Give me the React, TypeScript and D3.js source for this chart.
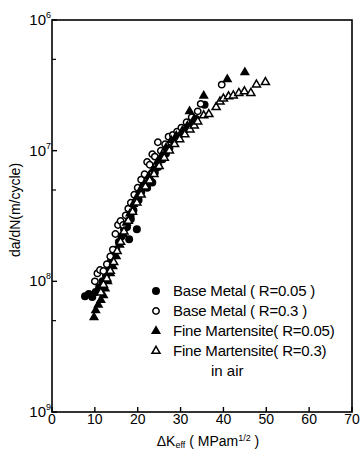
import React from 'react'
import * as d3 from 'd3'

const width = 361
const height = 454
const plot = { left: 52, right: 352, top: 20, bottom: 412 }

// [ΔKeff (MPa m^1/2), da/dN (m/cycle)]
const baseR005: [number, number][] = [
  [7.7, 7.7e-9], [8.6, 8.0e-9], [9.4, 7.6e-9], [10.2, 8.3e-9], [11.0, 9.0e-9], [11.8, 1.0e-8],
  [12.6, 1.1e-8], [13.2, 1.25e-8], [13.8, 1.45e-8], [14.4, 1.6e-8], [15.0, 1.75e-8], [15.6, 2.0e-8],
  [16.2, 2.2e-8], [16.8, 2.5e-8], [17.5, 2.6e-8], [18.0, 2.1e-8], [18.4, 3.0e-8], [19.0, 3.5e-8],
  [19.8, 2.5e-8], [20.2, 4.2e-8], [20.8, 4.8e-8], [21.4, 5.5e-8], [22.2, 5.2e-8], [22.8, 6.0e-8],
  [23.4, 5.7e-8], [24.0, 6.8e-8], [24.8, 7.5e-8], [25.8, 8.6e-8], [26.6, 9.5e-8], [27.4, 1.05e-7],
  [28.4, 1.18e-7], [29.6, 1.3e-7], [31.0, 1.45e-7], [32.4, 1.6e-7], [33.6, 1.75e-7], [35.6, 2.25e-7],
]
const baseR03: [number, number][] = [
  [10.0, 1.0e-8], [10.6, 1.15e-8], [11.2, 1.22e-8], [12.0, 1.2e-8], [12.8, 1.35e-8], [13.6, 1.55e-8],
  [14.2, 1.75e-8], [14.8, 2.3e-8], [15.4, 2.7e-8], [16.0, 2.9e-8], [16.6, 2.7e-8], [17.2, 3.2e-8],
  [17.8, 3.6e-8], [18.4, 4.0e-8], [19.2, 4.6e-8], [20.0, 5.2e-8], [20.8, 6.0e-8], [21.6, 6.6e-8],
  [22.2, 8.2e-8], [22.8, 7.8e-8], [23.4, 9.4e-8], [24.0, 9.0e-8], [24.7, 1.16e-7], [25.4, 1.0e-7],
  [26.4, 1.12e-7], [27.2, 1.28e-7], [28.2, 1.32e-7], [29.2, 1.4e-7], [30.2, 1.5e-7], [31.4, 1.65e-7],
  [32.6, 1.8e-7], [34.0, 2.0e-7], [34.7, 2.28e-7], [39.6, 3.2e-7],
]
const fineR005: [number, number][] = [
  [9.8, 5.3e-9], [10.2, 6.0e-9], [10.8, 6.6e-9], [11.4, 7.2e-9], [12.0, 7.8e-9], [12.4, 8.8e-9],
  [13.0, 1.0e-8], [13.6, 1.15e-8], [14.2, 1.3e-8], [15.0, 1.55e-8], [15.8, 1.9e-8], [16.6, 2.3e-8],
  [17.4, 2.8e-8], [18.2, 3.3e-8], [19.0, 3.9e-8], [19.8, 4.4e-8], [20.6, 5.0e-8], [21.6, 5.6e-8],
  [22.6, 6.4e-8], [23.6, 7.2e-8], [24.6, 8.2e-8], [25.6, 9.2e-8], [26.6, 1.05e-7], [27.8, 1.2e-7],
  [29.0, 1.3e-7], [30.4, 1.42e-7], [31.6, 1.55e-7], [32.1, 2.0e-7], [33.2, 1.75e-7], [35.4, 2.63e-7],
  [40.9, 3.52e-7], [45.0, 3.97e-7],
]
const fineR03: [number, number][] = [
  [11.4, 8.2e-9], [12.0, 9.4e-9], [12.8, 1.05e-8], [13.6, 1.2e-8], [14.4, 1.4e-8], [15.2, 1.7e-8],
  [16.0, 2.0e-8], [16.8, 2.4e-8], [17.8, 2.9e-8], [18.8, 3.4e-8], [19.8, 4.0e-8], [20.8, 4.6e-8],
  [21.8, 5.3e-8], [22.8, 5.9e-8], [23.8, 6.6e-8], [25.0, 7.6e-8], [26.2, 8.8e-8], [27.4, 1.0e-7],
  [28.6, 1.12e-7], [29.8, 1.22e-7], [31.0, 1.33e-7], [32.2, 1.45e-7], [33.2, 1.55e-7], [34.0, 1.67e-7],
  [35.4, 1.86e-7], [36.6, 1.9e-7], [38.3, 2.15e-7], [39.2, 2.37e-7], [40.0, 2.5e-7], [41.2, 2.6e-7],
  [42.3, 2.64e-7], [43.6, 2.76e-7], [44.9, 2.84e-7], [46.4, 2.76e-7], [47.7, 3.2e-7], [49.8, 3.34e-7],
]

const xTicks = [0, 10, 20, 30, 40, 50, 60, 70]
const yDecades = [1e-9, 1e-8, 1e-7, 1e-6]
const yExponents = ['9', '8', '7', '6']
const yMinor = [5e-9, 5e-8, 5e-7]
const legendLabels = [
  'Base Metal ( R=0.05 )',
  'Base Metal ( R=0.3 )',
  'Fine Martensite( R=0.05)',
  'Fine Martensite( R=0.3)',
]

const x = d3.scaleLinear().domain([0, 70]).range([plot.left, plot.right])
const y = d3.scaleLog().domain([1e-9, 1e-6]).range([plot.bottom, plot.top])

const circle = d3.symbol().type(d3.symbolCircle)
const tri = d3.symbol().type(d3.symbolTriangle)
const series = [
  { data: baseR005, d: circle.size(50)(), fill: '#000', stroke: 'none' },
  { data: baseR03, d: circle.size(32)(), fill: '#fff', stroke: '#000' },
  { data: fineR005, d: tri.size(44)(), fill: '#000', stroke: 'none' },
  { data: fineR03, d: tri.size(28)(), fill: '#fff', stroke: '#000' },
]

const font = '"Liberation Sans", Arial, sans-serif'

export default function App() {
  return (
    <svg width={width} height={height} style={{ position: 'absolute', left: 0, top: 0, background: '#fff' }}
      fontFamily={font}>
      <rect x={0} y={0} width={width} height={height} fill='#fff' />
      {series.map((s, si) => (
        <g key={si}>
          {s.data.map((p, i) => (
            <path key={i} d={s.d!} transform={`translate(${x(p[0])},${y(p[1])})`}
              fill={s.fill} stroke={s.stroke} strokeWidth={1.5} />
          ))}
        </g>
      ))}
      <rect x={plot.left} y={plot.top} width={plot.right - plot.left} height={plot.bottom - plot.top}
        fill='none' stroke='#000' strokeWidth={1.6} />
      {xTicks.map(t => (
        <g key={t}>
          <line x1={x(t)} x2={x(t)} y1={plot.bottom} y2={plot.bottom - 5} stroke='#000' strokeWidth={1.4} />
          <text x={x(t)} y={424} textAnchor='middle' fontSize={14}>{t}</text>
        </g>
      ))}
      {yDecades.map((t, i) => (
        <g key={t}>
          <line x1={plot.left} x2={plot.left + 5} y1={y(t)} y2={y(t)} stroke='#000' strokeWidth={1.4} />
          <text x={46} y={y(t) + 5} textAnchor='end' fontSize={15}>10</text>
          <text x={46} y={y(t) - 2} fontSize={9}>{yExponents[i]}</text>
        </g>
      ))}
      {yMinor.map(t => (
        <line key={t} x1={plot.left} x2={plot.left + 4} y1={y(t)} y2={y(t)} stroke='#000' strokeWidth={1.2} />
      ))}
      <text transform='translate(20,210) rotate(-90)' textAnchor='middle' fontSize={14}>da/dN(m/cycle)</text>
      <text x={208} y={446} textAnchor='middle' fontSize={14}>
        ΔK<tspan fontSize={9} dy={2}>eff</tspan><tspan dy={-2}> ( MPam</tspan>
        <tspan fontSize={9} dy={-5}>1/2</tspan><tspan dy={5}> )</tspan>
      </text>
      {legendLabels.map((label, i) => (
        <g key={label} transform={`translate(0,${291 + i * 20})`}>
          <path d={series[i].d!} transform='translate(156,0)' fill={series[i].fill}
            stroke={series[i].stroke} strokeWidth={1.5} />
          <text x={173} y={5} fontSize={15} letterSpacing={-0.2}>{label}</text>
        </g>
      ))}
      <text x={211} y={376} fontSize={15}>in air</text>
    </svg>
  )
}
